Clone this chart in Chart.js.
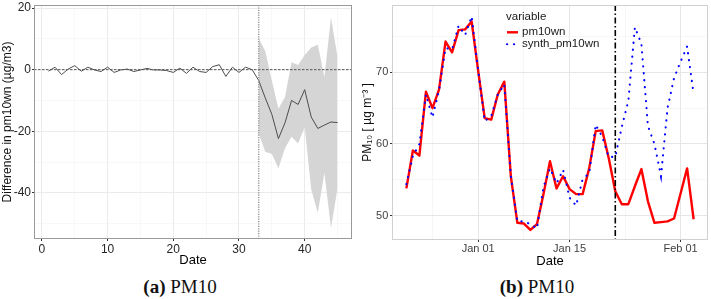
<!DOCTYPE html>
<html>
<head>
<meta charset="utf-8">
<script src="https://cdn.jsdelivr.net/npm/chart.js@4.4.1/dist/chart.umd.min.js"></script>
<style>
  html, body { margin: 0; padding: 0; background: #fff; }
  body { width: 711px; height: 299px; position: relative; overflow: hidden; }
  canvas { position: absolute; top: 0; }
  #cA { left: 0; }
  #cB { left: 356px; }
  .cap {
    position: absolute; top: 276px; height: 22px; line-height: 22px;
    text-align: center; color: #111;
    font-family: "Liberation Serif", "Times New Roman", serif; font-size: 19px;
  }
  .cap b { font-weight: bold; }
</style>
</head>
<body>
<canvas id="cA" width="356" height="275"></canvas>
<canvas id="cB" width="355" height="275"></canvas>
<div class="cap" style="left:0;width:360px"><b>(a)</b> PM10</div>
<div class="cap" style="left:357px;width:360px"><b>(b)</b> PM10</div>
<script>
// ---- data ------------------------------------------------------------------
// day index 1 = Dec 21, 12 = Jan 01, 26 = Jan 15, 43 = Feb 01
const DAY = [1,2,3,4,5,6,7,8,9,10,11,12,13,14,15,16,17,18,19,20,21,22,23,24,25,
             26,27,28,29,30,31,32,33,34,35,36,37,38,39,40,41,42,43,44,45];

// (a) difference pm10wn - synthetic, with uncertainty band after the intervention
const DIFF = [-0.5, 0.8, -1.6, 0.2, 1.3, -0.5, 0.8, -0.1, -0.6, 0.8, -0.9, -0.1, 0.2,
              -0.6, -0.1, 0.4, -0.1, -0.1, -0.3, -0.9, 0.5, -1.2, 0.8, -0.6, -0.9, 1.0,
              1.6, -2.2, 0.8, -0.9, 0.8, 0.0, -3.5, -9.2, -14.5, -22.4, -17.3, -10.0,
              -11.3, -6.5, -15.4, -19.1, -18.0, -17.0, -17.2];
const BAND_DAY   = [33, 34, 35, 36, 37, 38, 39, 40, 41, 42, 43, 44, 45];
const BAND_UPPER = [10.2, 6.0, -3.5, -12.7, -8.9, 2.4, 1.5, 4.8, 7.2, 8.1, -2.5, 17.0, 4.0];
const BAND_LOWER = [-20.7, -26.7, -27.4, -32.0, -25.5, -21.8, -24.0, -18.6, -39.0, -46.5,
                    -33.6, -51.4, -38.5];

// (b) observed vs synthetic PM10
const PM10WN = [53.8, 59.1, 58.4, 67.3, 65.0, 67.6, 74.3, 72.8, 75.9, 76.0, 77.1, 70.2,
                63.6, 63.4, 66.9, 68.7, 55.5, 49.0, 48.9, 48.0, 48.8, 53.0, 57.6, 53.8,
                55.5, 53.7, 53.0, 53.0, 56.6, 61.8, 61.9, 58.0, 53.4, 51.6, 51.6, 54.1,
                56.5, 52.0, 49.0, 49.1, 49.2, 49.6, 53.1, 56.6, 49.5];
const SYNTH_PM10WN = [54.4, 58.3, 60.0, 66.9, 63.7, 67.5, 73.4, 73.2, 76.5, 75.2, 77.8,
                      70.3, 63.2, 63.9, 66.9, 68.3, 55.6, 49.2, 49.2, 48.8, 48.2, 54.0,
                      56.6, 54.5, 56.4, 52.5, 51.4, 55.1, 55.9, 62.7, 61.0, 58.2, 58.2,
                      62.4, 66.0, 76.3, 74.0, 62.5, 60.0, 55.5, 65.0, 69.2, 71.5, 73.6, 67.0];

const INTERVENTION_DAY = 33;

// ticks
const A_X_MAJOR = [0, 10, 20, 30, 40];
const A_X_MINOR = [5, 15, 25, 35, 45];
const A_Y_MAJOR = [-40, -20, 0, 20];
const A_Y_MINOR = [-50, -30, -10, 10];
const B_X_MAJOR = [12, 26, 43];
const B_X_LABELS = ['Jan 01', 'Jan 15', 'Feb 01'];
const B_X_MINOR = [5, 19, 34.5];
const B_Y_MAJOR = [50, 60, 70];
const B_Y_MINOR = [55, 65, 75];

// ---- helpers ---------------------------------------------------------------
const SANS = '"Liberation Sans", Arial, sans-serif';

function pts(xs, ys) { return xs.map((x, i) => ({ x, y: ys[i] })); }

function tickSet(major, minor) {
  return function(scale) {
    scale.ticks = major.concat(minor).sort((a, b) => a - b).map(v => ({ value: v }));
  };
}

function gridOpts(major, majorColor, minorColor) {
  return {
    color: c => major.includes(c.tick && c.tick.value) ? majorColor : minorColor,
    lineWidth: c => major.includes(c.tick && c.tick.value) ? 1 : 0.6,
    tickColor: c => major.includes(c.tick && c.tick.value) ? '#333' : 'rgba(0,0,0,0)',
    tickLength: 2,
    drawTicks: true,
  };
}

function fixBox(prop, size) {
  return function(scale) {
    scale[prop] = size;
    scale.paddingTop = 0; scale.paddingBottom = 0;
    scale.paddingLeft = 0; scale.paddingRight = 0;
  };
}

// border, reference lines and an inside legend
const panelDecor = {
  id: 'panelDecor',
  afterDatasetsDraw(chart, args, opts) {
    const { ctx, chartArea: a, scales } = chart;
    ctx.save();
    ctx.beginPath(); ctx.rect(a.left, a.top, a.width, a.height); ctx.clip();
    for (const r of opts.refLines || []) {
      ctx.beginPath();
      ctx.strokeStyle = r.color; ctx.lineWidth = r.width; ctx.setLineDash(r.dash);
      if (r.axis === 'x') {
        const px = scales.x.getPixelForValue(r.value);
        ctx.moveTo(px, a.top); ctx.lineTo(px, a.bottom);
      } else {
        const py = scales.y.getPixelForValue(r.value);
        ctx.moveTo(a.left, py); ctx.lineTo(a.right, py);
      }
      ctx.stroke();
    }
    ctx.restore();
  },
  afterDraw(chart, args, opts) {
    const { ctx, chartArea: a } = chart;
    ctx.save();
    ctx.strokeStyle = opts.borderColor; ctx.lineWidth = 1;
    ctx.strokeRect(Math.round(a.left) + 0.5, Math.round(a.top) + 0.5,
                   Math.round(a.width) - 1, Math.round(a.height) - 1);
    const lg = opts.legend;
    if (lg) {
      ctx.font = '11.5px ' + SANS;
      ctx.fillStyle = '#1a1a1a'; ctx.textBaseline = 'middle'; ctx.textAlign = 'left';
      ctx.fillText(lg.title, a.left + lg.x, a.top + lg.y);
      chart.data.datasets.forEach((d, i) => {
        const y = a.top + lg.y + lg.first + lg.row * i;
        ctx.beginPath();
        ctx.strokeStyle = d.borderColor; ctx.lineWidth = d.borderWidth;
        ctx.lineCap = d.borderCapStyle || 'butt';
        ctx.setLineDash(d.borderDash || []);
        ctx.moveTo(a.left + lg.x + 1, y); ctx.lineTo(a.left + lg.x + 12, y);
        ctx.stroke();
        ctx.setLineDash([]);
        ctx.fillText(d.label, a.left + lg.x + 16, y);
      });
    }
    ctx.restore();
  }
};

// ---- (a) difference chart --------------------------------------------------
new Chart(document.getElementById('cA'), {
  type: 'line',
  data: {
    datasets: [
      { label: 'difference', data: pts(DAY, DIFF), borderColor: '#4d4d4d',
        borderWidth: 1, pointRadius: 0, tension: 0, fill: false },
      { label: 'upper', data: pts(BAND_DAY, BAND_UPPER), borderWidth: 0,
        borderColor: 'rgba(0,0,0,0)', pointRadius: 0, tension: 0, fill: false },
      { label: 'lower', data: pts(BAND_DAY, BAND_LOWER), borderWidth: 0,
        borderColor: 'rgba(0,0,0,0)', pointRadius: 0, tension: 0,
        fill: '-1', backgroundColor: 'rgb(213,213,213)' },
    ],
  },
  options: {
    responsive: false, animation: false,
    layout: { padding: { top: 5, right: 4, left: 0, bottom: 0 } },
    plugins: {
      legend: { display: false }, tooltip: { enabled: false },
      panelDecor: {
        borderColor: '#9a9a9a',
        refLines: [
          { axis: 'y', value: 0, color: '#555', width: 1, dash: [2.5, 1.5] },
          { axis: 'x', value: INTERVENTION_DAY, color: '#999', width: 1.5, dash: [1.2, 1.2] },
        ],
      },
    },
    scales: {
      x: {
        type: 'linear', min: -1.2, max: 47.2,
        afterBuildTicks: tickSet(A_X_MAJOR, A_X_MINOR),
        afterFit: fixBox('height', 36),
        grid: gridOpts(A_X_MAJOR, '#ebebeb', '#f4f4f4'),
        border: { display: false },
        ticks: { autoSkip: false, maxRotation: 0, padding: 1.5, color: '#262626',
                 font: { size: 12, family: SANS },
                 callback: v => A_X_MAJOR.includes(v) ? String(v) : '' },
        title: { display: true, text: 'Date', color: '#000',
                 font: { size: 13, family: SANS }, padding: { top: 0, bottom: 7 } },
      },
      y: {
        type: 'linear', min: -55, max: 21,
        afterBuildTicks: tickSet(A_Y_MAJOR, A_Y_MINOR),
        afterFit: fixBox('width', 34),
        grid: gridOpts(A_Y_MAJOR, '#ebebeb', '#f4f4f4'),
        border: { display: false },
        ticks: { autoSkip: false, padding: 1, color: '#262626',
                 font: { size: 12, family: SANS },
                 callback: v => A_Y_MAJOR.includes(v) ? String(v) : '' },
        title: { display: true, text: 'Difference in pm10wn (µg/m3)', color: '#111',
                 font: { size: 12, family: SANS }, padding: { top: 0, bottom: 0 } },
      },
    },
  },
  plugins: [panelDecor],
});

// ---- (b) observed vs synthetic ---------------------------------------------
new Chart(document.getElementById('cB'), {
  type: 'line',
  data: {
    datasets: [
      { label: 'pm10wn', data: pts(DAY, PM10WN), borderColor: '#ff0000',
        borderWidth: 2.4, pointRadius: 0, tension: 0, fill: false,
        borderJoinStyle: 'round', order: 1 },
      { label: 'synth_pm10wn', data: pts(DAY, SYNTH_PM10WN), borderColor: '#0000ff',
        borderWidth: 2.1, pointRadius: 0, tension: 0, fill: false,
        borderDash: [0.2, 6.8], borderCapStyle: 'round', order: 0 },
    ],
  },
  options: {
    responsive: false, animation: false,
    layout: { padding: { top: 5, right: 3, left: 0, bottom: 0 } },
    plugins: {
      legend: { display: false }, tooltip: { enabled: false },
      panelDecor: {
        borderColor: '#d0d0d0',
        refLines: [
          { axis: 'x', value: INTERVENTION_DAY, color: '#000', width: 1.6, dash: [6, 2.5, 1.5, 2.5] },
        ],
        legend: { title: 'variable', x: 114, y: 11.7, first: 15.6, row: 12 },
      },
    },
    scales: {
      x: {
        type: 'linear', min: -1.2, max: 47.2,
        afterBuildTicks: tickSet(B_X_MAJOR, B_X_MINOR),
        afterFit: fixBox('height', 35),
        grid: gridOpts(B_X_MAJOR, '#e6e6e6', '#f0f0f0'),
        border: { display: false },
        ticks: { autoSkip: false, maxRotation: 0, padding: 0, color: '#404040',
                 font: { size: 11, family: SANS },
                 callback: v => { const k = B_X_MAJOR.indexOf(v); return k >= 0 ? B_X_LABELS[k] : ''; } },
        title: { display: true, text: 'Date', color: '#000',
                 font: { size: 13, family: SANS }, padding: { top: 0, bottom: 5.5 } },
      },
      y: {
        type: 'linear', min: 46.6, max: 79.4,
        afterBuildTicks: tickSet(B_Y_MAJOR, B_Y_MINOR),
        afterFit: fixBox('width', 36),
        grid: gridOpts(B_Y_MAJOR, '#e6e6e6', '#f0f0f0'),
        border: { display: false },
        ticks: { autoSkip: false, padding: 1.7, color: '#404040',
                 font: { size: 11, family: SANS },
                 callback: v => B_Y_MAJOR.includes(v) ? String(v) : '' },
        title: { display: true, text: 'PM₁₀ [ µg m⁻³ ]', color: '#111',
                 font: { size: 12, family: SANS }, padding: { top: 4.5, bottom: 0 } },
      },
    },
  },
  plugins: [panelDecor],
});
</script>
</body>
</html>
